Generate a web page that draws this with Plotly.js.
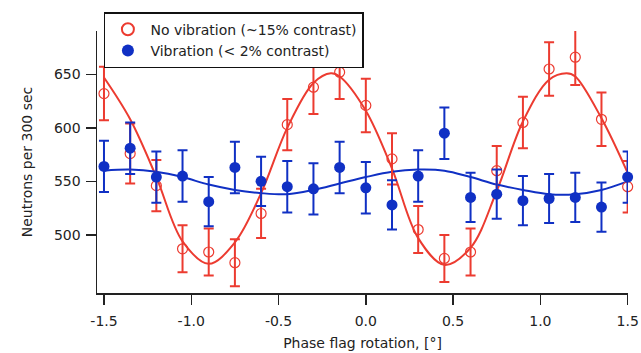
<!DOCTYPE html>
<html>
<head>
<meta charset="utf-8">
<script src="https://cdn.plot.ly/plotly-3.0.1.min.js"></script>
<style>html,body{margin:0;padding:0;background:#fff;}#chart{width:641px;height:353px;}</style>
</head>
<body>
<div id="chart"></div>
<script>
// Phase flag rotation (degrees)
const phase = [-1.5, -1.35, -1.2, -1.05, -0.9, -0.75, -0.6, -0.45, -0.3, -0.15, 0.0, 0.15, 0.3, 0.45, 0.6, 0.75, 0.9, 1.05, 1.2, 1.35, 1.5];

// No vibration (~15% contrast)
const noVibCounts = [632, 576, 546, 487, 484, 474, 520, 603, 638, 652, 621, 571, 505, 478, 484, 560, 605, 655, 666, 608, 545];
const noVibErr    = [25, 28, 24, 22, 22, 22, 23, 24, 25, 25, 25, 24, 22, 22, 22, 23, 24, 25, 26, 25, 24];

// Vibration (< 2% contrast)
const vibCounts = [564, 581, 554, 555, 531, 563, 550, 545, 543, 563, 544, 528, 555, 595, 535, 538, 532, 534, 535, 526, 554];
const vibErr    = [24, 24, 24, 24, 23, 24, 23, 24, 24, 24, 24, 23, 24, 24, 23, 23, 23, 23, 23, 23, 24];

// Fit curves
const fitNoVibX = [-1.5, -1.35, -1.2, -1.05, -0.9, -0.75, -0.6, -0.45, -0.3, -0.2, -0.15, 0.0, 0.15, 0.3, 0.45, 0.6, 0.75, 0.9, 1.05, 1.15, 1.2, 1.35, 1.5];
const fitNoVibY = [647, 608, 554, 494, 473, 493, 539, 600, 642, 651, 648, 616, 562, 497, 472, 488, 541, 606, 645, 651, 648, 609, 558];
const fitVibX = phase;
const fitVibY = [560, 561, 559, 554, 547, 542, 539, 538, 542, 548, 554, 559, 561, 560, 554, 547, 542, 538, 538, 542, 550];

const xTicks = [-1.5, -1.0, -0.5, 0.0, 0.5, 1.0, 1.5];
const xTickText = ['-1.5', '-1.0', '-0.5', '0.0', '0.5', '1.0', '1.5'];
const yTicks = [500, 550, 600, 650];

const RED = '#ec3b30';
const BLUE = '#1030c4';
const FONT = 'DejaVu Sans, Verdana, sans-serif';

const traces = [
  {x: fitNoVibX, y: fitNoVibY, mode: 'lines', line: {color: RED, width: 2, shape: 'spline', smoothing: 1.0}, showlegend: false, hoverinfo: 'skip', cliponaxis: false},
  {x: fitVibX, y: fitVibY, mode: 'lines', line: {color: BLUE, width: 2, shape: 'spline', smoothing: 1.0}, showlegend: false, hoverinfo: 'skip', cliponaxis: false},
  {x: phase, y: noVibCounts, name: 'No vibration (~15% contrast)', mode: 'markers', cliponaxis: false,
   marker: {symbol: 'circle-open', size: 10, color: RED, line: {width: 1.2, color: RED}},
   error_y: {type: 'data', array: noVibErr, visible: true, color: RED, thickness: 2, width: 5}},
  {x: phase, y: vibCounts, name: 'Vibration (< 2% contrast)', mode: 'markers', cliponaxis: false,
   marker: {symbol: 'circle', size: 11, color: BLUE},
   error_y: {type: 'data', array: vibErr, visible: true, color: BLUE, thickness: 2, width: 5}}
];

const layout = {
  width: 641, height: 353,
  margin: {l: 97, r: 13, t: 27, b: 60},
  paper_bgcolor: '#fff', plot_bgcolor: '#fff',
  font: {family: FONT, size: 14, color: '#222'},
  showlegend: true,
  legend: {x: 0.013, y: 1.072, xanchor: 'left', yanchor: 'top', bgcolor: '#fff', bordercolor: '#111', borderwidth: 1.5,
           font: {family: FONT, size: 14, color: '#222'}, tracegroupgap: 0, itemsizing: 'constant', itemwidth: 35},
  xaxis: {range: [-1.54, 1.502], tickvals: xTicks, ticktext: xTickText, showline: true, linecolor: '#222', linewidth: 1.5,
          ticks: 'outside', ticklen: 10, tickwidth: 1.5, tickcolor: '#222', showgrid: false, zeroline: false, mirror: false,
          ticklabelstandoff: 5,
          title: {text: 'Phase flag rotation, [°]', font: {family: FONT, size: 14, color: '#222'}, standoff: 10}},
  yaxis: {range: [445.7, 690.5], tickvals: yTicks, showline: true, linecolor: '#222', linewidth: 1.5,
          ticks: 'outside', ticklen: 10, tickwidth: 1.5, tickcolor: '#222', showgrid: false, zeroline: false, mirror: false,
          ticklabelstandoff: 2,
          title: {text: 'Neutrons per 300 sec', font: {family: FONT, size: 14, color: '#222'}, standoff: 18}}
};

Plotly.newPlot('chart', traces, layout, {displayModeBar: false, staticPlot: true});
</script>
</body>
</html>
